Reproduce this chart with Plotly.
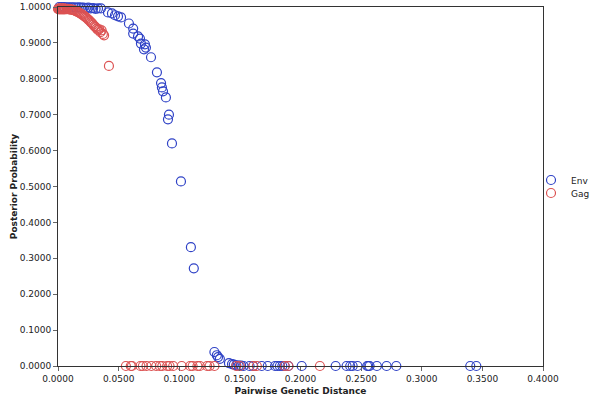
import plotly.graph_objects as go

# Env series (pairwise genetic distance, posterior probability)
env_x = [0.001, 0.003, 0.005, 0.007, 0.009, 0.011, 0.013, 0.015, 0.017, 0.019,
         0.021, 0.023, 0.025, 0.027, 0.029, 0.031, 0.033, 0.0354,
         0.0412, 0.0445, 0.047, 0.0495, 0.052, 0.0585, 0.062, 0.062, 0.066,
         0.0676, 0.0684, 0.0717, 0.0725, 0.0709, 0.0767, 0.0816, 0.085, 0.0857,
         0.0866, 0.089, 0.0915, 0.0907, 0.094, 0.1014, 0.1096, 0.112,
         0.129, 0.131, 0.132, 0.1335, 0.141, 0.1435, 0.145, 0.147, 0.149, 0.151, 0.153,
         0.158, 0.161, 0.168, 0.173, 0.179, 0.181, 0.183, 0.185, 0.187, 0.190,
         0.201, 0.229, 0.238, 0.241, 0.243, 0.247, 0.255, 0.256, 0.257, 0.263,
         0.271, 0.279, 0.340, 0.345]
env_y = [1.000, 1.000, 1.000, 0.999, 0.999, 0.999, 0.999, 0.998, 0.999, 0.998,
         0.998, 0.997, 0.998, 0.996, 0.997, 0.995, 0.996, 0.996,
         0.985, 0.982, 0.977, 0.974, 0.971, 0.954, 0.940, 0.926, 0.918,
         0.912, 0.898, 0.896, 0.887, 0.882, 0.860, 0.818, 0.788, 0.776,
         0.765, 0.748, 0.700, 0.687, 0.620, 0.514, 0.331, 0.272,
         0.039, 0.030, 0.025, 0.020, 0.008, 0.005, 0.004, 0.002, 0.001, 0.001, 0.000,
         0.000, 0.000, 0.000, 0.000, 0.000, 0.000, 0.000, 0.000, 0.000, 0.000,
         0.000, 0.000, 0.000, 0.000, 0.000, 0.000, 0.000, 0.000, 0.000, 0.000,
         0.000, 0.000, 0.000, 0.000]

# Gag series
gag_x = [0.000, 0.0005, 0.001, 0.0015, 0.002, 0.0025, 0.003, 0.0035, 0.004, 0.0045,
         0.005, 0.0055, 0.006, 0.007, 0.008, 0.009, 0.010, 0.011, 0.012, 0.013,
         0.014, 0.015, 0.016, 0.017, 0.018, 0.019, 0.020, 0.021, 0.022, 0.023,
         0.024, 0.025, 0.026, 0.027, 0.028, 0.029, 0.030, 0.031, 0.032, 0.033,
         0.034, 0.035, 0.036, 0.037, 0.038, 0.042,
         0.056, 0.060, 0.061, 0.068, 0.070, 0.073, 0.077, 0.081, 0.084, 0.086,
         0.090, 0.092, 0.095, 0.102, 0.109, 0.111, 0.115, 0.117, 0.123, 0.125,
         0.129, 0.147, 0.150, 0.161, 0.164, 0.187, 0.190, 0.216]
gag_y = [0.995, 0.994, 0.996, 0.993, 0.995, 0.994, 0.996, 0.993, 0.995, 0.994,
         0.996, 0.993, 0.995, 0.994, 0.995, 0.993, 0.994, 0.992, 0.993, 0.991,
         0.990, 0.988, 0.987, 0.985, 0.983, 0.981, 0.979, 0.976, 0.974, 0.971,
         0.968, 0.965, 0.962, 0.958, 0.955, 0.951, 0.947, 0.944, 0.940, 0.936,
         0.938, 0.930, 0.935, 0.925, 0.921, 0.836,
         0.000, 0.000, 0.000, 0.000, 0.000, 0.000, 0.000, 0.000, 0.000, 0.000,
         0.000, 0.000, 0.000, 0.000, 0.000, 0.000, 0.000, 0.000, 0.000, 0.000,
         0.000, 0.000, 0.000, 0.000, 0.000, 0.000, 0.000, 0.000]

x_ticks = [0.0, 0.05, 0.1, 0.15, 0.2, 0.25, 0.3, 0.35, 0.4]
y_ticks = [0.0, 0.1, 0.2, 0.3, 0.4, 0.5, 0.6, 0.7, 0.8, 0.9, 1.0]

FONT = "DejaVu Sans, Verdana, sans-serif"

fig = go.Figure()
fig.add_trace(go.Scatter(
    x=env_x, y=env_y, mode="markers", name="Env", cliponaxis=False, legend="legend",
    marker=dict(symbol="circle-open", size=9, color="#2f42c6", line=dict(width=1.2)),
))
fig.add_trace(go.Scatter(
    x=gag_x, y=gag_y, mode="markers", name="Gag", cliponaxis=False, legend="legend2",
    marker=dict(symbol="circle-open", size=9, color="#dc5252", line=dict(width=1.2)),
))

leg_common = dict(xref="container", yref="container", xanchor="left", yanchor="middle",
                  font=dict(size=9, color="#222"),
                  itemwidth=30, bgcolor="rgba(0,0,0,0)", borderwidth=0)

fig.update_layout(
    width=603, height=401,
    margin=dict(l=58, r=60, t=7, b=35, autoexpand=False),
    paper_bgcolor="white", plot_bgcolor="white",
    font=dict(family=FONT, size=9, color="#222"),
    showlegend=True,
    legend=dict(x=531 / 603, y=1 - 180 / 401, **leg_common),
    legend2=dict(x=531 / 603, y=1 - 193 / 401, **leg_common),
    xaxis=dict(
        range=[0, 0.4], tickvals=x_ticks, tickformat=".4f", automargin=False,
        showgrid=False, zeroline=False,
        showline=True, linecolor="#333", linewidth=1, mirror=True,
        ticks="outside", ticklen=4, tickcolor="#666",
        title=dict(text="<b>Pairwise Genetic Distance</b>", font=dict(size=9), standoff=4),
    ),
    yaxis=dict(
        range=[0, 1], tickvals=y_ticks, tickformat=".4f", automargin=False,
        showgrid=False, zeroline=False,
        showline=True, linecolor="#333", linewidth=1, mirror=True,
        ticks="outside", ticklen=4, tickcolor="#666",
        title=dict(text="<b>Posterior Probability</b>", font=dict(size=9), standoff=0),
    ),
)

fig.write_html("out.html", config={"displayModeBar": False},
               post_script="document.body.style.margin='0';")
